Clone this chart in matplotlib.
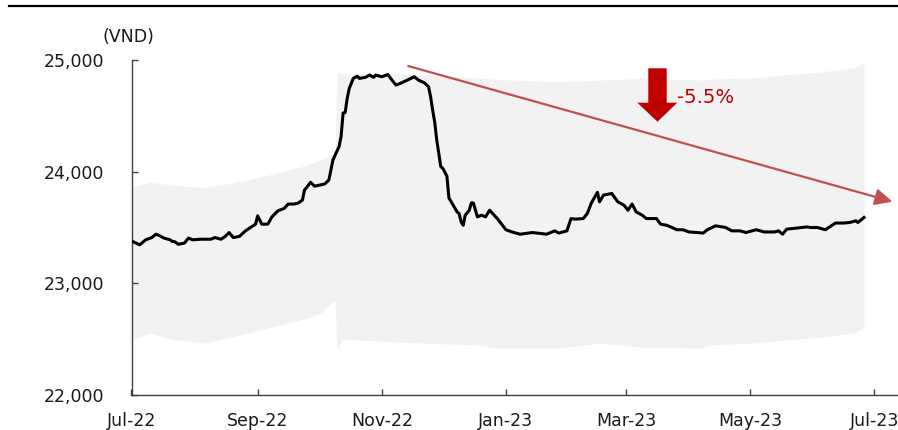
import matplotlib
matplotlib.use("Agg")
import matplotlib.pyplot as plt
import matplotlib.dates as mdates
from matplotlib.lines import Line2D
from matplotlib.patches import Polygon
import numpy as np
import pandas as pd

# USD/VND exchange rate (daily)
rate_dates = [
    "2022-07-01", "2022-07-05", "2022-07-08", "2022-07-11", "2022-07-13", "2022-07-15",
    "2022-07-17", "2022-07-20", "2022-07-21", "2022-07-22", "2022-07-24", "2022-07-27",
    "2022-07-29", "2022-07-31", "2022-08-04", "2022-08-09", "2022-08-11", "2022-08-14",
    "2022-08-16", "2022-08-18", "2022-08-20", "2022-08-23", "2022-08-26", "2022-08-31",
    "2022-09-01", "2022-09-03", "2022-09-06", "2022-09-08", "2022-09-11", "2022-09-14",
    "2022-09-16", "2022-09-19", "2022-09-21", "2022-09-23", "2022-09-24", "2022-09-26",
    "2022-09-27", "2022-09-29", "2022-10-04", "2022-10-06", "2022-10-08", "2022-10-11",
    "2022-10-12", "2022-10-13", "2022-10-14", "2022-10-15", "2022-10-16", "2022-10-18",
    "2022-10-20", "2022-10-21", "2022-10-24", "2022-10-26", "2022-10-28", "2022-10-29",
    "2022-11-01", "2022-11-04", "2022-11-06", "2022-11-08", "2022-11-10", "2022-11-13",
    "2022-11-17", "2022-11-19", "2022-11-22", "2022-11-24", "2022-11-25", "2022-11-26",
    "2022-11-27", "2022-11-28", "2022-11-30", "2022-12-01", "2022-12-03", "2022-12-04",
    "2022-12-07", "2022-12-08", "2022-12-09", "2022-12-10", "2022-12-11", "2022-12-12",
    "2022-12-14", "2022-12-15", "2022-12-16", "2022-12-18", "2022-12-20", "2022-12-22",
    "2022-12-24", "2022-12-28", "2023-01-01", "2023-01-04", "2023-01-08", "2023-01-14",
    "2023-01-21", "2023-01-25", "2023-01-27", "2023-01-31", "2023-02-02", "2023-02-04",
    "2023-02-08", "2023-02-10", "2023-02-12", "2023-02-15", "2023-02-16", "2023-02-18",
    "2023-02-22", "2023-02-25", "2023-02-28", "2023-03-02", "2023-03-04", "2023-03-06",
    "2023-03-09", "2023-03-11", "2023-03-16", "2023-03-18", "2023-03-21", "2023-03-23",
    "2023-03-26", "2023-03-29", "2023-04-01", "2023-04-05", "2023-04-08", "2023-04-10",
    "2023-04-14", "2023-04-19", "2023-04-22", "2023-04-26", "2023-04-29", "2023-05-04",
    "2023-05-08", "2023-05-13", "2023-05-15", "2023-05-17", "2023-05-19", "2023-05-24",
    "2023-05-29", "2023-05-31", "2023-06-03", "2023-06-07", "2023-06-12", "2023-06-16",
    "2023-06-19", "2023-06-22", "2023-06-23", "2023-06-26",
]
rate_values = [
    23380, 23345, 23390, 23410, 23440, 23425,
    23405, 23390, 23375, 23375, 23350, 23360,
    23405, 23390, 23395, 23395, 23410, 23395,
    23420, 23455, 23410, 23420, 23470, 23530,
    23605, 23530, 23530, 23595, 23650, 23670,
    23710, 23710, 23720, 23745, 23835, 23880,
    23905, 23870, 23890, 23925, 24105, 24225,
    24315, 24525, 24530, 24655, 24745, 24835,
    24855, 24835, 24845, 24865, 24845, 24865,
    24850, 24870, 24820, 24775, 24790, 24815,
    24850, 24820, 24795, 24760, 24670, 24550,
    24445, 24285, 24045, 24030, 23960, 23765,
    23670, 23640, 23625, 23550, 23520, 23610,
    23655, 23720, 23720, 23595, 23610, 23595,
    23655, 23575, 23480, 23460, 23440, 23455,
    23440, 23470, 23450, 23470, 23580, 23575,
    23580, 23625, 23720, 23815, 23730, 23790,
    23805, 23730, 23700, 23655, 23710, 23640,
    23610, 23580, 23580, 23530, 23520, 23505,
    23480, 23480, 23460, 23455, 23450, 23480,
    23515, 23500, 23470, 23470, 23455, 23480,
    23460, 23460, 23470, 23440, 23485, 23495,
    23505, 23500, 23500, 23480, 23540, 23540,
    23545, 23560, 23545, 23590,
]

# Permitted trading band (ceiling / floor)
band_dates = [
    "2022-07-01", "2022-07-10", "2022-07-21", "2022-08-06", "2022-08-20", "2022-09-02",
    "2022-09-22", "2022-10-02", "2022-10-08", "2022-10-09", "2022-10-10", "2022-10-13",
    "2022-11-08", "2022-11-28", "2022-12-18", "2022-12-28", "2023-01-27", "2023-02-16",
    "2023-03-08", "2023-04-07", "2023-04-13", "2023-05-02", "2023-05-17", "2023-06-06",
    "2023-06-21", "2023-06-26",
]
band_upper = [
    23865, 23905, 23880, 23855, 23900, 23950,
    24040, 24105, 24165, 24170, 24880, 24880,
    24880, 24860, 24840, 24825, 24805, 24820,
    24835, 24820, 24830, 24840, 24865, 24895,
    24930, 24980,
]
band_lower = [
    22495, 22555, 22500, 22465, 22520, 22580,
    22670, 22735, 22835, 22840, 22420, 22500,
    22475, 22460, 22448, 22420, 22420, 22465,
    22430, 22420, 22450, 22465, 22490, 22520,
    22555, 22610,
]

y_ticks = [22000, 23000, 24000, 25000]
change_label = "-5.5%"
unit_label = "(VND)"

W, H = 898, 430
fig = plt.figure(figsize=(W / 100, H / 100), dpi=100)
plt.rcParams["font.family"] = ["DejaVu Sans"]

ax = fig.add_axes([131.5 / W, 1 - 395 / H, 1 - 131.5 / W, (395 - 60) / H])

rd = pd.to_datetime(rate_dates)
bd = pd.to_datetime(band_dates)

ax.fill_between(bd, band_lower, band_upper, color="#f2f2f2", lw=0, zorder=1)
ax.plot(rd, rate_values, color="black", lw=2.2, zorder=3, solid_joinstyle="round")

x0 = mdates.date2num(pd.Timestamp("2022-07-01"))
ax.set_xlim(x0, x0 + 376.7)
ax.set_ylim(22000, 25000)
ax.set_yticks(y_ticks)
ax.yaxis.set_major_formatter(matplotlib.ticker.FuncFormatter(lambda v, p: f"{int(v):,}"))
ax.xaxis.set_major_locator(mdates.MonthLocator(bymonth=[1, 3, 5, 7, 9, 11]))
ax.xaxis.set_major_formatter(mdates.DateFormatter("%b-%y"))

for s in ("top", "right"):
    ax.spines[s].set_visible(False)
for s in ("left", "bottom"):
    ax.spines[s].set_color("#404040")
    ax.spines[s].set_linewidth(1.0)

ax.tick_params(axis="y", direction="in", length=4.3, width=1.0, color="#404040",
               pad=19.8, labelsize=12.5, labelcolor="#1a1a1a")
ax.tick_params(axis="x", direction="in", length=4.3, width=1.0, color="#404040",
               pad=12.5, labelsize=12.5, labelcolor="#1a1a1a")
ax.set_facecolor("none")

# Trend arrow
start = (mdates.date2num(pd.Timestamp("2022-11-14")), 24946)
end = (mdates.date2num(pd.Timestamp("2023-07-10")), 23731)
ax.annotate("", xy=end, xytext=start, xycoords="data", textcoords="data",
            arrowprops=dict(arrowstyle="-|>,head_length=1.05,head_width=0.5",
                            color="#c0504d", lw=1.6, shrinkA=0, shrinkB=0),
            annotation_clip=False, zorder=4)

# Block down arrow with change label
def fx(px):
    return px / W

def fy(py):
    return 1 - py / H

arrow_px = [(648.3, 68.3), (666.7, 68.3), (666.7, 102.7), (677.3, 102.7),
            (657.5, 121.7), (637.3, 102.7), (648.3, 102.7)]
fig.add_artist(Polygon([(fx(a), fy(b)) for a, b in arrow_px], closed=True,
                       transform=fig.transFigure, facecolor="#c00000",
                       edgecolor="none", zorder=5))
fig.text(fx(677), fy(97.5), change_label, color="#c00000", fontsize=14.1,
         ha="left", va="center")

fig.text(fx(128.5), fy(37.5), unit_label, color="#1a1a1a", fontsize=12.5,
         ha="center", va="center")

# Rule across the top
fig.add_artist(Line2D([fx(9), 1.0], [fy(6), fy(6)], color="black", lw=1.6,
                      transform=fig.transFigure))

fig.savefig("out.png", dpi=100)
